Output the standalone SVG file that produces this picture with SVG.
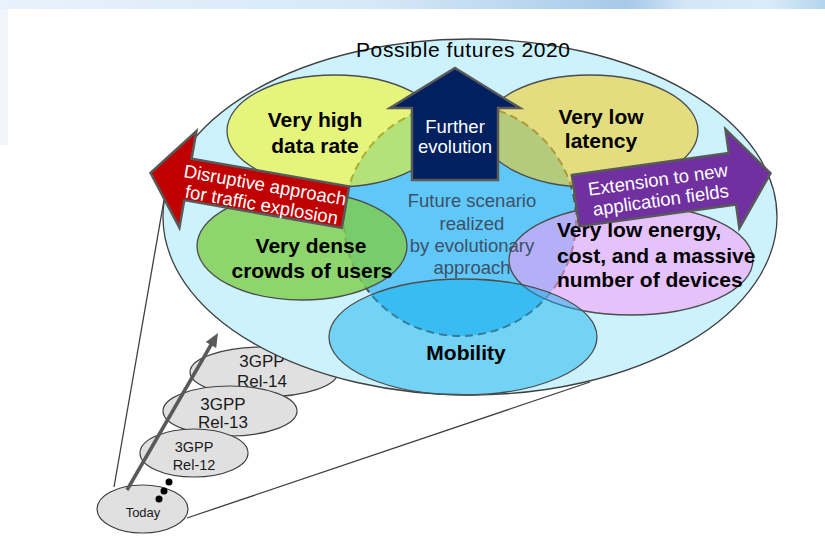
<svg xmlns="http://www.w3.org/2000/svg" width="825" height="542" viewBox="0 0 825 542">
<defs>
<linearGradient id="band" x1="0" y1="0" x2="1" y2="0">
<stop offset="0" stop-color="#e8f2fb"/>
<stop offset="0.45" stop-color="#d6e8f7"/>
<stop offset="0.62" stop-color="#bcd8f0"/>
<stop offset="0.76" stop-color="#a6c9e8"/>
<stop offset="0.83" stop-color="#d3e6f7"/>
<stop offset="0.93" stop-color="#dcebf8"/>
<stop offset="1" stop-color="#b3d5ee"/>
</linearGradient>
</defs>
<style>
text{font-family:"Liberation Sans",Arial,sans-serif}
.lbl{font-size:21px;font-weight:bold;fill:#000;text-anchor:middle}
.rel{fill:#e0e0e0;stroke:#404040;stroke-width:1.2}
.reltx{fill:#1a1a1a;text-anchor:middle}
.area{stroke:#4d4d4d;stroke-width:1.3}
.arr{stroke:#595959;stroke-width:2.5;stroke-linejoin:miter}
.wt{fill:#fff;font-size:18.5px;text-anchor:middle}
.conn{stroke:#404040;stroke-width:1.3;fill:none}
</style>
<rect x="0" y="0" width="825" height="542" fill="#fff"/>
<rect x="0" y="0" width="825" height="9" fill="url(#band)"/>
<rect x="0" y="9" width="8" height="136" fill="#f2f6fc"/>

<g id="connectors">
<line class="conn" x1="164" y1="200" x2="114" y2="487"/>
<line class="conn" x1="187" y1="518" x2="590" y2="382"/>
</g>

<g id="rel14">
<ellipse class="rel" cx="264" cy="372" rx="74" ry="25"/>
<text class="reltx" x="262" y="367" font-size="17">3GPP</text>
<text class="reltx" x="262" y="387" font-size="17">Rel-14</text>
</g>

<g id="futures">
<ellipse cx="470" cy="217" rx="307" ry="178" fill="#ccf2fd" stroke="#404040" stroke-width="1.3"/>
<text x="463" y="57" font-size="21" text-anchor="middle" fill="#000" textLength="214">Possible futures 2020</text>
</g>

<g id="scenario">
<circle cx="460" cy="220" r="116" fill="#60c8f8" stroke="#555" stroke-width="2" stroke-dasharray="8 5"/>
</g>

<g id="datarate">
<ellipse class="area" cx="335" cy="131" rx="108" ry="56" fill="#faf70e" fill-opacity="0.54"/>
</g>
<g id="latency">
<ellipse class="area" cx="590" cy="131" rx="108" ry="56" fill="#f4ce1f" fill-opacity="0.57"/>
</g>
<g id="dense">
<ellipse class="area" cx="302" cy="246" rx="105" ry="54" fill="#80cd49" fill-opacity="0.8"/>
</g>
<g id="energy">
<ellipse class="area" cx="631" cy="260" rx="122" ry="55" fill="#fa9bf8" fill-opacity="0.54"/>
</g>
<g id="mobility">
<ellipse class="area" cx="463" cy="337" rx="134" ry="58" fill="#0aafeb" fill-opacity="0.46"/>
<text class="lbl" x="466" y="360">Mobility</text>
</g>

<g id="scenario-text" font-size="18.5" fill="#3d5068" text-anchor="middle">
<text x="472" y="207">Future scenario</text>
<text x="472" y="230">realized</text>
<text x="472" y="252">by evolutionary</text>
<text x="472" y="274">approach</text>
</g>

<g id="labels">
<text class="lbl" x="315" y="127">Very high</text>
<text class="lbl" x="315" y="153">data rate</text>
<text class="lbl" x="601" y="124">Very low</text>
<text class="lbl" x="601" y="148">latency</text>
<text class="lbl" x="311" y="253">Very dense</text>
<text class="lbl" x="312" y="278">crowds of users</text>
<text class="lbl" x="557" y="237" text-anchor="start" style="text-anchor:start">Very low energy,</text>
<text class="lbl" x="557" y="263" style="text-anchor:start">cost, and a massive</text>
<text class="lbl" x="557" y="287" style="text-anchor:start">number of devices</text>
</g>

<g id="further">
<path class="arr" d="M455,68 L520,108 L498,108 L498,180 L412,180 L412,108 L390,108 Z" fill="#002060"/>
<text class="wt" x="455" y="133">Further</text>
<text class="wt" x="455" y="153">evolution</text>
</g>

<g id="disruptive" transform="translate(248,190) rotate(10)">
<path class="arr" d="M-99,0 L-61,-49 L-61,-21 L99,-21 L99,21 L-61,21 L-61,49 Z" fill="#c00000"/>
<text class="wt" x="16" y="-1.5" font-size="18">Disruptive approach</text>
<text class="wt" x="16" y="18.5" font-size="18">for traffic explosion</text>
</g>

<g id="extension" transform="translate(673,187) rotate(-8)">
<path class="arr" d="M-98.5,-26 L60,-26 L60,-50 L98.5,0 L60,50 L60,26 L-98.5,26 Z" fill="#7030a0"/>
<text class="wt" x="-14" y="-3">Extension to new</text>
<text class="wt" x="-14" y="17.5">application fields</text>
</g>

<g id="rel13">
<ellipse class="rel" cx="230" cy="411" rx="67" ry="25"/>
<text class="reltx" x="223" y="410" font-size="17">3GPP</text>
<text class="reltx" x="223" y="428" font-size="17">Rel-13</text>
</g>
<g id="rel12">
<ellipse class="rel" cx="194" cy="453" rx="54" ry="24"/>
<text class="reltx" x="194" y="452" font-size="14.5">3GPP</text>
<text class="reltx" x="194" y="470" font-size="14.5">Rel-12</text>
</g>
<g id="today">
<ellipse class="rel" cx="142.5" cy="509" rx="45.5" ry="24"/>
<text class="reltx" x="143" y="517" font-size="13">Today</text>
</g>

<g id="progress">
<line x1="127" y1="490" x2="211.5" y2="344" stroke="#595959" stroke-width="3.5"/>
<polygon points="218,333 216.2,348.1 205.8,342.1" fill="#595959"/>
<circle cx="169" cy="482" r="3.5" fill="#000"/>
<circle cx="164" cy="491" r="3.5" fill="#000"/>
<circle cx="159" cy="499" r="3.5" fill="#000"/>
</g>
</svg>
